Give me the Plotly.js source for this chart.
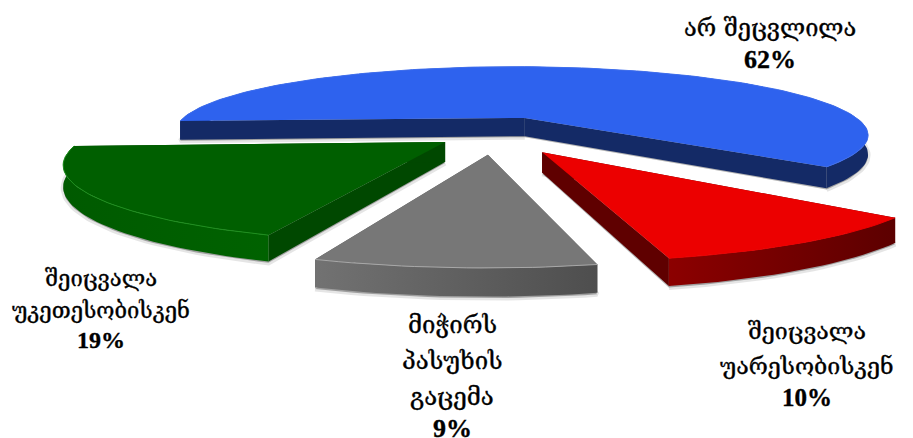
<!DOCTYPE html>
<html><head><meta charset="utf-8">
<script src="https://cdn.plot.ly/plotly-3.0.1.min.js"></script>
<style>html,body{margin:0;padding:0;background:#fff}#c{width:913px;height:438px}
.annotation-text{stroke:#000;stroke-width:0.35px}</style>
</head><body><div id="c"></div>
<script>
// data
const categories = ['არ შეცვლილა', 'შეიცვალა უარესობისკენ', 'მიჭირს პასუხის გაცემა', 'შეიცვალა უკეთესობისკენ'];
const shares = [62, 10, 9, 19];
const labelLines = [['არ შეცვლილა'], ['შეიცვალა', 'უარესობისკენ'], ['მიჭირს', 'პასუხის', 'გაცემა'], ['შეიცვალა', 'უკეთესობისკენ']];

// styles and layout settings
const pulls = [0.26, 0.257, 0.25, 0.152];
const radii = [0.97, 0.965, 0.975, 0.965];
const nudgeX = [7, 0, 3, 2];
const lensM = [-0.015, 0, 0, 0];
const edgeTweak = [[0, -1], [-2, -1.6], [-1.6, -0.7], [-1, 0]];
const topColors = ['#2e62ee', '#ec0000', '#777777', '#005f00'];
const rimColors = ['#3f6ff0', '#ec0000', '#a8a8a8', '#1f8f1f'];
const cutWall = ['#142a66', '#5f0000', '#555555', '#004800'];
const arcWallL = ['#142a66', '#8c0000', '#727272', '#005a00'];
const arcWallR = ['#142a66', '#5c0000', '#4e4e4e', '#006200'];
const labelX = [770, 807, 452, 101];
const labelY = [[28, 59], [330, 365, 397], [325, 361, 397, 428], [278, 310, 340]];
const labelSize = [23.6, 23.2, 24, 22];
const pctSize = [26, 25, 26, 24];
const drawOrder = [0, 3, 1, 2];

// pseudo-3D camera
const cam = {cx: 489, cy: 135, R: 370, Rt: 74, k: 0.26, start: 183, h: 19.5};
function project(X, F, drop, i) {
  const w = 1 - cam.k * F - lensM[i] * X;
  return [cam.cx + nudgeX[i] + cam.R * X / w, cam.cy + (cam.Rt * F + drop) / w];
}
const total = shares.reduce((a, b) => a + b, 0);
const traces = [];
function poly(pts, color, grad, name) {
  const t = {type: 'scatter', mode: 'lines', x: pts.map(p => p[0]), y: pts.map(p => p[1]),
    fill: 'toself', line: {width: 0, color: color}, fillcolor: color, hoverinfo: 'skip', showlegend: false, name: name};
  if (grad) t.fillgradient = {type: 'horizontal', colorscale: [[0, grad[0]], [1, grad[1]]]};
  traces.push(t);
}
const slices = [];
let a = cam.start;
shares.forEach((v, i) => {
  const span = v / total * 360, a0 = a, a1 = a - span, mid = (a0 + a1) / 2 * Math.PI / 180;
  slices.push({i, a0: a0 + edgeTweak[i][0], a1: a1 + edgeTweak[i][1], tx: pulls[i] * Math.cos(mid), tf: -pulls[i] * Math.sin(mid)});
  a = a1;
});
drawOrder.forEach(i => {
  const s = slices[i], r = radii[i];
  const n = Math.ceil((s.a0 - s.a1) / 1.5);
  const world = [];
  for (let j = 0; j <= n; j++) {
    const t = (s.a0 + (s.a1 - s.a0) * j / n) * Math.PI / 180;
    world.push([s.tx + r * Math.cos(t), s.tf - r * Math.sin(t)]);
  }
  const arcT = world.map(p => project(p[0], p[1], 0, i));
  const arcB = world.map(p => project(p[0], p[1], cam.h, i));
  const tipT = project(s.tx, s.tf, 0, i), tipB = project(s.tx, s.tf, cam.h, i);
  const sh = [project(s.tx, s.tf, cam.h + 1, i)].concat(world.map(p => project(p[0], p[1], cam.h + 1, i)));
  traces.push({type: 'scatter', mode: 'lines', x: sh.map(p => p[0]), y: sh.map(p => p[1]), fill: 'toself',
    fillcolor: 'rgba(0,0,0,0.3)', line: {width: 5, color: 'rgba(0,0,0,0.10)'}, hoverinfo: 'skip', showlegend: false});
  poly([tipT, arcT[0], arcB[0], tipB], cutWall[i], null, categories[i]);
  poly([tipT, arcT[n], arcB[n], tipB], cutWall[i], null, categories[i]);
  poly(arcT.concat(arcB.slice().reverse()), arcWallL[i], [arcWallL[i], arcWallR[i]], categories[i]);
  poly([tipT].concat(arcT), topColors[i], null, categories[i]);
  traces.push({type: 'scatter', mode: 'lines', x: arcT.map(p => p[0]), y: arcT.map(p => p[1]),
    line: {width: 1, color: rimColors[i]}, hoverinfo: 'skip', showlegend: false});
});

const annotations = [];
shares.forEach((v, i) => {
  labelLines[i].concat([v + '%']).forEach((line, j, arr) => {
    const isPct = j === arr.length - 1;
    annotations.push({xref: 'x', yref: 'y', x: labelX[i], y: labelY[i][j], showarrow: false,
      xanchor: 'center', yanchor: 'middle', text: line,
      font: {family: isPct ? 'Liberation Serif' : 'DejaVu Serif', weight: isPct ? 700 : 400,
             size: isPct ? pctSize[i] : labelSize[i], color: '#000'}});
  });
});

Plotly.newPlot('c', traces, {
  width: 913, height: 438, margin: {l: 0, r: 0, t: 0, b: 0},
  paper_bgcolor: '#fff', plot_bgcolor: '#fff', showlegend: false,
  xaxis: {range: [0, 913], visible: false, fixedrange: true},
  yaxis: {range: [438, 0], visible: false, fixedrange: true},
  annotations
}, {displayModeBar: false, staticPlot: true});
</script></body></html>
